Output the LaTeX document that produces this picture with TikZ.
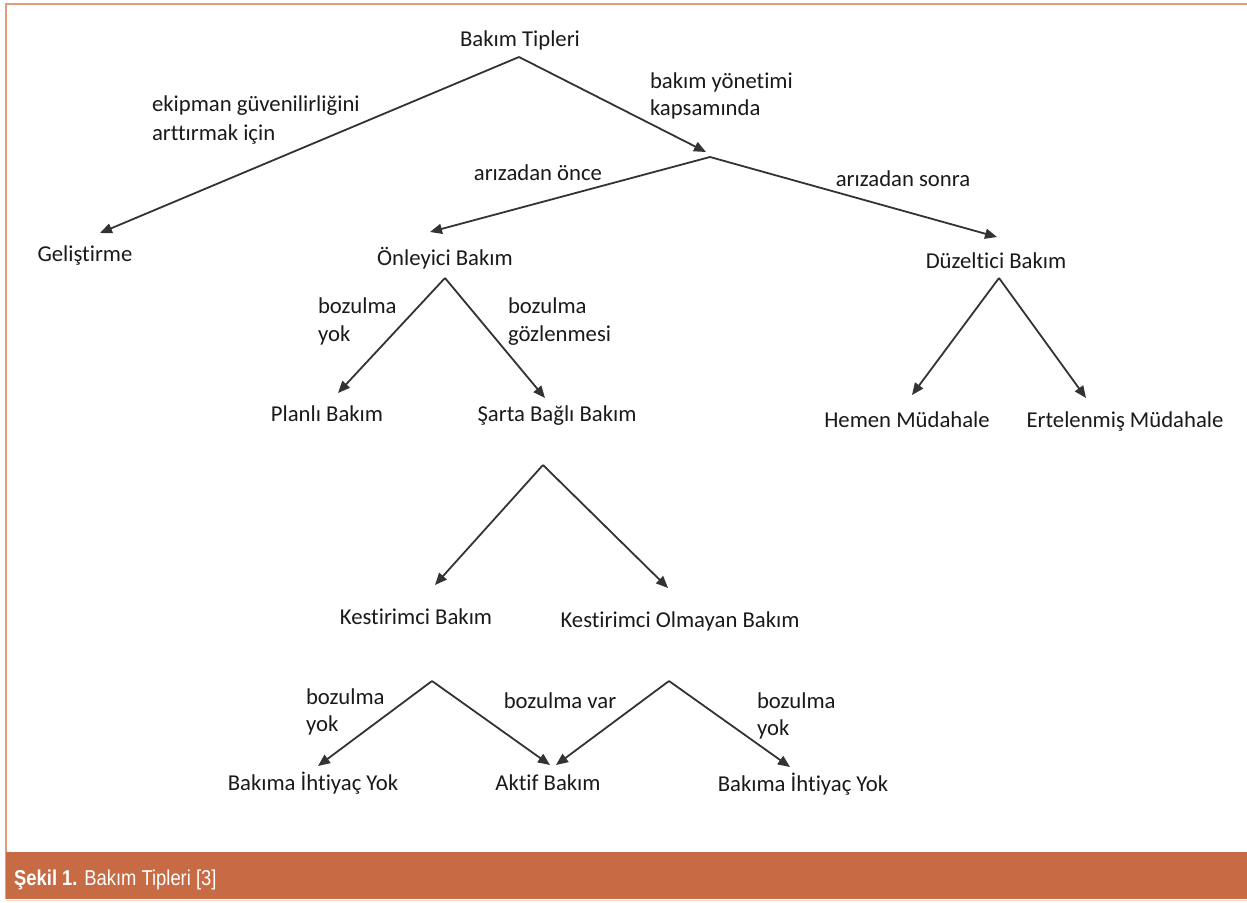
\documentclass[tikz,border=0pt]{standalone}
\usepackage{fontspec}
\setmainfont{Carlito}[Ligatures=NoCommon]
\newfontfamily\capfont{Liberation Sans}
\usetikzlibrary{arrows.meta}
\definecolor{framecol}{HTML}{E39B7E}
\definecolor{barcol}{HTML}{C76B45}
\definecolor{txtcol}{HTML}{1A1A1A}
\definecolor{linecol}{HTML}{333333}
\tikzset{
  lbl/.style={inner sep=0pt, outer sep=0pt, text=txtcol, font=\fontsize{22.7}{28}\selectfont},
  ctr/.style={lbl, anchor=base},
  lft/.style={lbl, anchor=base west},
  arr/.style={draw=linecol, line width=1.8pt, -{Triangle[length=12pt,width=10pt]}},
}
\begin{document}
\begin{tikzpicture}[x=1pt,y=-1pt]
\useasboundingbox (0,0) rectangle (1247,902);
% frame and caption bar
\fill[white] (0,0) rectangle (1247,902);
\draw[framecol, line width=2pt] (6,899) -- (6,4) -- (1247,4);
\fill[barcol] (6,852) rectangle (1247,899);
\draw[framecol!40, line width=1pt] (6,900.5) -- (1247,900.5);
\node[anchor=base west, inner sep=0pt, text=white] (cap) at (14,885)
  {\capfont\fontsize{21.5}{25}\selectfont\scalebox{0.855}[1]{\textbf{Şekil 1.} Bakım Tipleri [3]}};

% nodes
\node[ctr] (root) at (520,46) {Bakım Tipleri};
\node[lft] (l1a) at (152,111) {ekipman güvenilirliğini};
\node[lft] (l1b) at (152,140) {arttırmak için};
\node[lft] (l2a) at (650,88) {bakım yönetimi};
\node[lft] (l2b) at (650,115) {kapsamında};
\node[ctr] (l3) at (538,180) {arızadan önce};
\node[ctr] (l4) at (903,186) {arızadan sonra};
\node[ctr] (gel) at (85,261) {Geliştirme};
\node[ctr] (onl) at (445,265) {Önleyici Bakım};
\node[ctr] (duz) at (996,268) {Düzeltici Bakım};
\node[lft] (l5a) at (318,313) {bozulma};
\node[lft] (l5b) at (318,341) {yok};
\node[lft] (l6a) at (508,313) {bozulma};
\node[lft] (l6b) at (508,341) {gözlenmesi};
\node[ctr] (pla) at (327,421) {Planlı Bakım};
\node[ctr] (sar) at (557,421) {Şarta Bağlı Bakım};
\node[ctr] (hem) at (907,427) {Hemen Müdahale};
\node[ctr] (ert) at (1125,427) {Ertelenmiş Müdahale};
\node[ctr] (kes) at (416,624) {Kestirimci Bakım};
\node[ctr] (kol) at (680,627) {Kestirimci Olmayan Bakım};
\node[lft] (l7a) at (306,704) {bozulma};
\node[lft] (l7b) at (306,731) {yok};
\node[ctr] (l8) at (560,708) {bozulma var};
\node[lft] (l9a) at (757,708) {bozulma};
\node[lft] (l9b) at (757,735) {yok};
\node[ctr] (bi1) at (313,790) {Bakıma İhtiyaç Yok};
\node[ctr] (akt) at (548,790) {Aktif Bakım};
\node[ctr] (bi2) at (803,791) {Bakıma İhtiyaç Yok};

% connector points
\coordinate (rootA) at (519,57);
\coordinate (gelT) at (100,233);
\coordinate (jT) at (706,152);
\coordinate (j) at (710,157);
\coordinate (onlT) at (430,232);
\coordinate (duzT) at (997,237);
\coordinate (onlA) at (445,278);
\coordinate (plaT) at (338,393);
\coordinate (sarT) at (545,398);
\coordinate (duzA) at (999,278);
\coordinate (hemT) at (912,395);
\coordinate (ertT) at (1086,398);
\coordinate (sarA) at (543,465);
\coordinate (kesT) at (435,585);
\coordinate (kolT) at (668,588);
\coordinate (kesA) at (432,681);
\coordinate (bi1T) at (318,766);
\coordinate (akt1T) at (550,765);
\coordinate (kolA) at (669,681);
\coordinate (akt2T) at (556,765);
\coordinate (bi2T) at (790,767);

% connectors
\draw[arr] (rootA) -- (gelT);
\draw[arr] (rootA) -- (jT);
\draw[arr] (j) -- (onlT);
\draw[arr] (j) -- (duzT);
\draw[arr] (onlA) -- (plaT);
\draw[arr] (onlA) -- (sarT);
\draw[arr] (duzA) -- (hemT);
\draw[arr] (duzA) -- (ertT);
\draw[arr] (sarA) -- (kesT);
\draw[arr] (sarA) -- (kolT);
\draw[arr] (kesA) -- (bi1T);
\draw[arr] (kesA) -- (akt1T);
\draw[arr] (kolA) -- (akt2T);
\draw[arr] (kolA) -- (bi2T);
\end{tikzpicture}
\end{document}
